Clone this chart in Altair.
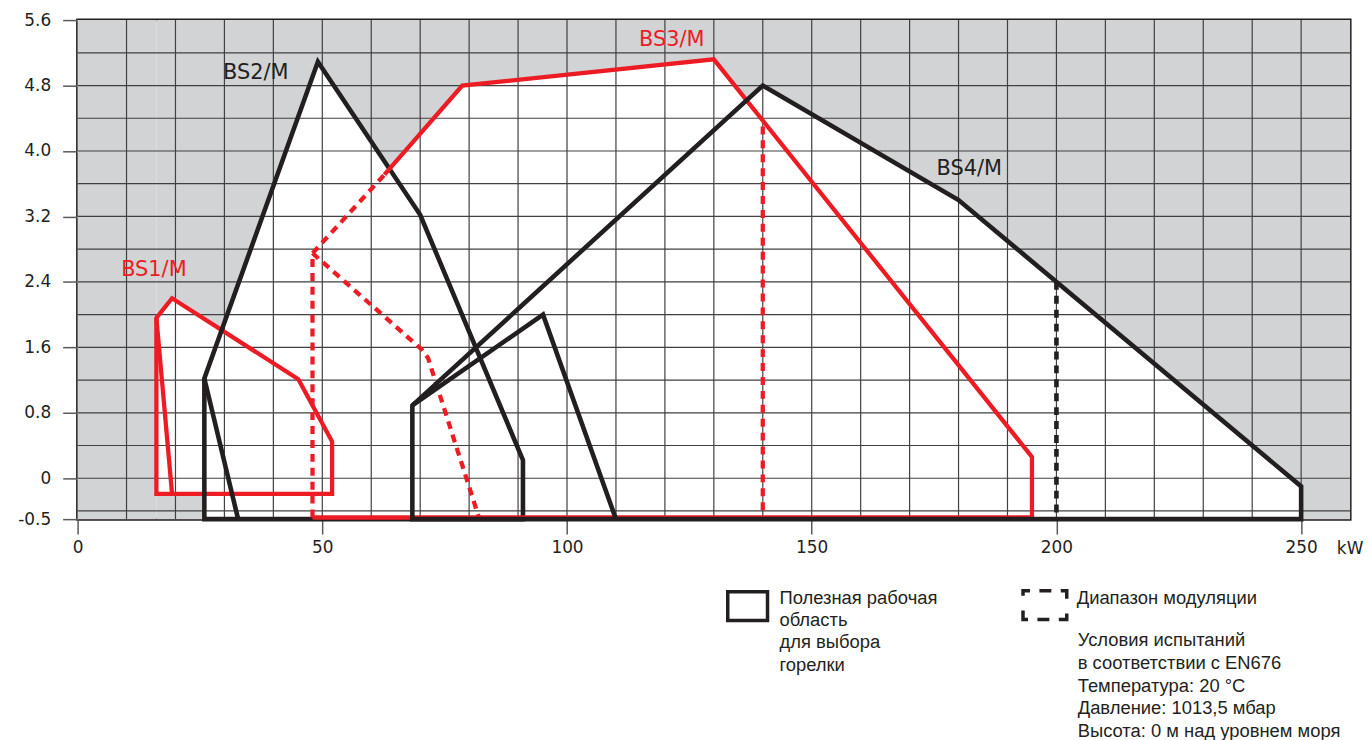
import json
import altair as alt
import pandas as pd

RED = "#ed1c24"
BLACK = "#231f20"
GREY_FILL = "#d1d3d4"
GRID = "#414042"

# ---- axes ----
X_TICKS = [0, 50, 100, 150, 200, 250]
Y_TICKS = [-0.5, 0, 0.8, 1.6, 2.4, 3.2, 4.0, 4.8, 5.6]
Y_TICK_LABELS = ["-0.5", "0", "0.8", "1.6", "2.4", "3.2", "4.0", "4.8", "5.6"]
GRID_X = [10, 20, 30, 40, 50, 60, 70, 80, 90, 100, 110, 120, 130, 140, 150,
          160, 170, 180, 190, 200, 210, 220, 230, 240, 250]
GRID_Y = [-0.4, 0.0, 0.4, 0.8, 1.2, 1.6, 2.0, 2.4, 2.8, 3.2, 3.6, 4.0, 4.4, 4.8, 5.2]

# ---- BS1/M (red) ----
BS1_OUT_X = [16.1, 16.1, 19.3, 45.1, 52.0, 52.0, 16.1]
BS1_OUT_Y = [-0.19, 1.96, 2.20, 1.21, 0.45, -0.19, -0.19]
BS1_IN_X = [19.3, 16.1]
BS1_IN_Y = [-0.19, 1.96]

# ---- BS2/M (black) ----
BS2_OUT_X = [25.9, 25.9, 49.1, 70.0, 91.0, 91.0, 25.9]
BS2_OUT_Y = [-0.5, 1.22, 5.09, 3.22, 0.22, -0.5, -0.5]
BS2_IN_X = [25.9, 32.8]
BS2_IN_Y = [1.22, -0.5]

# ---- BS3/M (red) ----
BS3_OUT_X = [62.7, 78.6, 130.0, 195.0, 195.0, 48.0]
BS3_OUT_Y = [3.71, 4.80, 5.12, 0.26, -0.48, -0.48]
BS3_MOD1_X = [48.0, 48.0, 62.7]
BS3_MOD1_Y = [-0.48, 2.75, 3.71]
BS3_MOD2_X = [48.0, 70.2, 71.6, 82.0]
BS3_MOD2_Y = [2.75, 1.58, 1.47, -0.48]
BS3_MOD3_X = [140.0, 140.0]
BS3_MOD3_Y = [4.30, -0.48]

# ---- BS4/M (black) ----
BS4_OUT_X = [68.4, 68.4, 140.0, 180.0, 250.0, 250.0, 68.4]
BS4_OUT_Y = [-0.5, 0.89, 4.80, 3.40, -0.10, -0.5, -0.5]
BS4_IN_X = [68.4, 95.1, 110.0]
BS4_IN_Y = [0.89, 2.00, -0.5]
BS4_MOD_X = [200.0, 200.0]
BS4_MOD_Y = [2.40, -0.5]

# ---- grey (outside) region ----
ENV_X = [16.1, 19.3, 29.4, 49.1, 63.8, 78.6, 130.0, 136.7, 140.0, 180.0, 250.0]
ENV_Y = [1.96, 2.20, 1.81, 5.09, 3.78, 4.80, 5.12, 4.62, 4.80, 3.40, -0.10]
GREY_RECT_X1 = [0.0, 16.1, 250.0]
GREY_RECT_X2 = [16.1, 25.9, 260.0]
GREY_RECT_Y1 = [-0.5, -0.5, -0.5]
GREY_RECT_Y2 = [5.6, -0.19, 5.6]

# ---- labels ----
LABELS = ["BS1/M", "BS2/M", "BS3/M", "BS4/M"]
LABEL_X = [8.9, 29.7, 114.7, 175.5]
LABEL_Y = [2.55, 4.95, 5.36, 3.78]
LABEL_COLOR = [RED, BLACK, RED, BLACK]

LEGEND_AREA = "Полезная рабочая\nобласть\nдля выбора\nгорелки"
LEGEND_MOD = "Диапазон модуляции"
NOTES = ("Условия испытаний\nв соответствии с EN676\nТемпература: 20 °C\n"
         "Давление: 1013,5 мбар\nВысота: 0 м над уровнем моря")
UNIT = "kW"

XS = alt.Scale(domain=[0, 260], nice=False, zero=False)
YS = alt.Scale(domain=[-0.5, 5.6], nice=False, zero=False)

label_expr = "{}[indexof({}, datum.value)]".format(json.dumps(Y_TICK_LABELS), json.dumps(Y_TICKS))

X_AXIS = alt.Axis(values=X_TICKS, domain=False, grid=False, tickSize=15, tickColor="#58595b",
                  tickWidth=1.5, labelFontSize=17, labelFont="DejaVu Sans", labelColor=BLACK,
                  labelPadding=6, labelFlush=False, labelOverlap=False, title=None)
Y_AXIS = alt.Axis(values=Y_TICKS, domain=False, grid=False, tickSize=15, tickColor="#58595b",
                  tickWidth=1.5, labelFontSize=17, labelFont="DejaVu Sans", labelColor=BLACK,
                  labelPadding=12, labelFlush=False, labelOverlap=False, labelExpr=label_expr,
                  title=None)


def xe(field):
    return alt.X(field, type="quantitative", scale=XS, axis=X_AXIS, title=None)


def ye(field):
    return alt.Y(field, type="quantitative", scale=YS, axis=Y_AXIS, title=None)


layers = []

# grey rectangles
rect_df = pd.DataFrame({"x1": GREY_RECT_X1, "x2": GREY_RECT_X2, "y1": GREY_RECT_Y1, "y2": GREY_RECT_Y2})
layers.append(alt.Chart(rect_df).mark_rect(color=GREY_FILL).encode(
    x=xe("x1"), x2="x2:Q", y=ye("y1"), y2="y2:Q"))

# grey area above envelope
env_df = pd.DataFrame({"kw": ENV_X, "val": ENV_Y})
layers.append(alt.Chart(env_df).mark_area(color=GREY_FILL, opacity=1).encode(
    x=xe("kw"), y=ye("val"), y2=alt.datum(5.6)))

# grid
layers.append(alt.Chart(pd.DataFrame({"kw": GRID_X})).mark_rule(color=GRID, strokeWidth=1.2).encode(x=xe("kw")))
layers.append(alt.Chart(pd.DataFrame({"val": GRID_Y})).mark_rule(color=GRID, strokeWidth=1.2).encode(y=ye("val")))


def path(xs, ys, color, width, dash=None, cap="butt"):
    df = pd.DataFrame({"kw": xs, "val": ys, "i": list(range(len(xs)))})
    kw = dict(color=color, strokeWidth=width, strokeJoin="miter", strokeCap=cap, clip=False)
    if dash is not None:
        kw["strokeDash"] = dash
    return alt.Chart(df).mark_line(**kw).encode(x=xe("kw"), y=ye("val"), order=alt.Order("i:Q"))


DASH = [8, 6]
RW, BW = 4.3, 4.6

# BS1
layers.append(path(BS1_OUT_X, BS1_OUT_Y, RED, RW, cap="square"))
layers.append(path(BS1_IN_X, BS1_IN_Y, RED, RW))
# BS2
layers.append(path(BS2_OUT_X, BS2_OUT_Y, BLACK, BW, cap="square"))
layers.append(path(BS2_IN_X, BS2_IN_Y, BLACK, BW))
# BS3
layers.append(path(BS3_OUT_X, BS3_OUT_Y, RED, RW))
layers.append(path(BS3_MOD1_X, BS3_MOD1_Y, RED, RW, DASH))
layers.append(path(BS3_MOD2_X, BS3_MOD2_Y, RED, RW, DASH))
layers.append(path(BS3_MOD3_X, BS3_MOD3_Y, RED, RW, DASH))
# BS4
layers.append(path(BS4_OUT_X, BS4_OUT_Y, BLACK, BW, cap="square"))
layers.append(path(BS4_IN_X, BS4_IN_Y, BLACK, BW))
layers.append(path(BS4_MOD_X, BS4_MOD_Y, BLACK, BW, DASH))

# burner labels
lab_df = pd.DataFrame({"t": LABELS, "kw": LABEL_X, "val": LABEL_Y, "c": LABEL_COLOR})
layers.append(alt.Chart(lab_df).mark_text(align="left", baseline="middle", font="DejaVu Sans",
                                          fontSize=21).encode(
    x=xe("kw"), y=ye("val"), text="t:N", color=alt.Color("c:N", scale=None)))

# unit label
layers.append(alt.Chart(pd.DataFrame({"t": [UNIT]})).mark_text(
    align="center", baseline="middle", font="DejaVu Sans", fontSize=17, color=BLACK).encode(
    x=alt.value(1280), y=alt.value(532), text="t:N"))

one = pd.DataFrame({"k": [0]})
# legend: solid box
layers.append(alt.Chart(one).mark_rect(filled=False, color=BLACK, strokeWidth=3.5).encode(
    x=alt.value(654), x2=alt.value(694), y=alt.value(575), y2=alt.value(604)))
# legend: dashed box
layers.append(alt.Chart(one).mark_rect(filled=False, color=BLACK, strokeWidth=3.5,
                                       strokeDash=[14, 9.5, 12, 9.5, 14, 15], strokeDashOffset=7).encode(
    x=alt.value(951), x2=alt.value(995), y=alt.value(574), y2=alt.value(603)))

TXT = dict(align="left", baseline="top", font="Liberation Sans", fontSize=18.5, color=BLACK,
           lineBreak="\n")
layers.append(alt.Chart(pd.DataFrame({"t": [LEGEND_AREA]})).mark_text(lineHeight=22.5, **TXT).encode(
    x=alt.value(706), y=alt.value(572), text="t:N"))
layers.append(alt.Chart(pd.DataFrame({"t": [LEGEND_MOD]})).mark_text(lineHeight=22, **TXT).encode(
    x=alt.value(1005), y=alt.value(572), text="t:N"))
layers.append(alt.Chart(pd.DataFrame({"t": [NOTES]})).mark_text(lineHeight=22.8, **TXT).encode(
    x=alt.value(1006), y=alt.value(615), text="t:N"))

chart = alt.layer(*layers).properties(
    width=1280, height=502,
    padding={"left": 70, "top": 10, "right": 14, "bottom": 220},
    autosize=alt.AutoSizeParams(type="none"),
    background="white",
).configure_view(stroke=BLACK, strokeWidth=3)

chart.save("out.html", embed_options={"renderer": "svg", "actions": False})
